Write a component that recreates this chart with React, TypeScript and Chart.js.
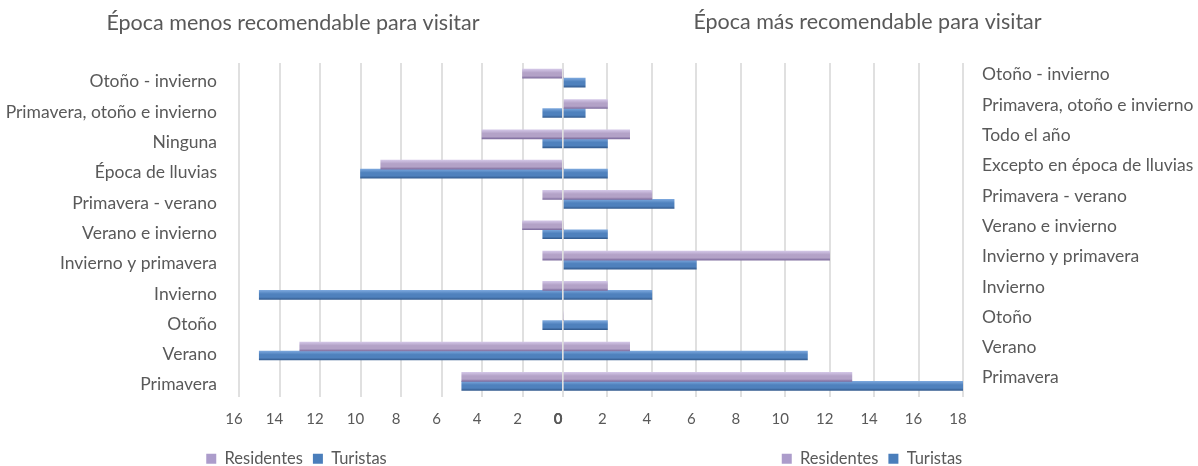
import React, { useEffect, useRef } from "react";
import { Chart, registerables } from "chart.js";

Chart.register(...registerables);

const leftTitle = "Época menos recomendable para visitar";
const rightTitle = "Época más recomendable para visitar";

const leftCategories = [
  "Otoño - invierno",
  "Primavera, otoño e invierno",
  "Ninguna",
  "Época de lluvias",
  "Primavera - verano",
  "Verano e invierno",
  "Invierno y primavera",
  "Invierno",
  "Otoño",
  "Verano",
  "Primavera",
];
const leftResidentes = [2, 0, 4, 9, 1, 2, 1, 1, 0, 13, 5];
const leftTuristas = [0, 1, 1, 10, 0, 1, 0, 15, 1, 15, 5];

const rightCategories = [
  "Otoño - invierno",
  "Primavera, otoño e invierno",
  "Todo el año",
  "Excepto en época de lluvias",
  "Primavera - verano",
  "Verano e invierno",
  "Invierno y primavera",
  "Invierno",
  "Otoño",
  "Verano",
  "Primavera",
];
const rightResidentes = [0, 2, 3, 0, 4, 0, 12, 2, 0, 3, 13];
const rightTuristas = [1, 1, 2, 2, 5, 2, 6, 4, 2, 11, 18];

const seriesNames = ["Residentes", "Turistas"];
const leftMax = 16;
const rightMax = 18;

const FONT = "Lato, 'Open Sans', sans-serif";
const TEXT = "#595959";
const BAR = 9;

const purple = { top: "#d2c5e6", mid: "#b3a2c7", bottom: "#7f6d9e", solid: "#b3a2c7", legend: "#ac9ccb" };
const blue = { top: "#7aa6dc", mid: "#4f81bd", bottom: "#345c90", solid: "#4f81bd", legend: "#4a7ebb" };

function gradient(c: typeof purple, dir: number) {
  return (ctx: any) => {
    const chart = ctx.chart;
    const yScale = chart.scales && chart.scales.y;
    if (!chart.chartArea || !yScale || ctx.dataIndex === undefined) return c.solid;
    const center = yScale.getPixelForValue(ctx.dataIndex) + dir * (BAR / 2);
    const g = chart.ctx.createLinearGradient(0, center - BAR / 2, 0, center + BAR / 2);
    g.addColorStop(0, c.top);
    g.addColorStop(0.4, c.mid);
    g.addColorStop(0.75, c.mid);
    g.addColorStop(1, c.bottom);
    return g;
  };
}

// shifts the title and legend boxes horizontally after layout
function shiftPlugin(titleDx: number, legendDx: number) {
  return {
    id: "shiftBoxes",
    afterLayout(chart: any) {
      const t = chart.titleBlock;
      if (t) {
        t.left += titleDx;
        t.right += titleDx;
      }
      const l = chart.legend;
      if (l) {
        l.left += legendDx;
        l.right += legendDx;
      }
    },
  };
}

function makeConfig(
  categories: string[],
  res: number[],
  tur: number[],
  title: string,
  side: "left" | "right",
  max: number
): any {
  const isLeft = side === "left";
  return {
    type: "bar",
    data: {
      labels: categories,
      datasets: [
        {
          label: seriesNames[0],
          data: res,
          backgroundColor: gradient(purple, -1),
          barThickness: BAR,
          borderWidth: 0,
        },
        {
          label: seriesNames[1],
          data: tur,
          backgroundColor: gradient(blue, 1),
          barThickness: BAR,
          borderWidth: 0,
        },
      ],
    },
    plugins: [isLeft ? shiftPlugin(11.5, 15) : shiftPlugin(-13, -8.5)],
    options: {
      indexAxis: "y",
      responsive: false,
      animation: false,
      devicePixelRatio: 1,
      layout: {
        padding: isLeft
          ? { left: 0, right: 37, top: 0, bottom: 0 }
          : { left: 23, right: 0, top: 0, bottom: 0 },
      },
      plugins: {
        title: {
          display: true,
          text: title,
          color: TEXT,
          font: { family: FONT, size: 21.5, weight: "normal" },
          padding: isLeft ? { top: 10, bottom: 27.2 } : { top: 9, bottom: 28.2 },
        },
        legend: {
          position: "bottom",
          labels: {
            color: TEXT,
            font: { family: FONT, size: 16.5 },
            boxWidth: 10,
            boxHeight: 10,
            padding: 10,
            generateLabels: () => [
              { text: seriesNames[0], fillStyle: purple.legend, strokeStyle: purple.legend, lineWidth: 0, datasetIndex: 0, fontColor: TEXT },
              { text: seriesNames[1], fillStyle: blue.legend, strokeStyle: blue.legend, lineWidth: 0, datasetIndex: 1, fontColor: TEXT },
            ],
          },
        },
        tooltip: { enabled: false },
      },
      scales: {
        x: {
          type: "linear",
          min: 0,
          max: max,
          reverse: isLeft,
          afterFit: (scale: any) => {
            scale.height = 44;
            scale.paddingLeft = 0;
            scale.paddingRight = 0;
          },
          grid: { color: "#e0e0e0", lineWidth: 2, drawTicks: false },
          border: { display: false },
          ticks: {
            stepSize: 2,
            padding: 14,
            labelOffset: -5,
            color: TEXT,
            font: (ctx: any) => ({
              family: FONT,
              size: 15,
              weight: ctx.tick && ctx.tick.value === 0 ? "bold" : "normal",
            }),
          },
        },
        y: {
          position: side,
          afterFit: (scale: any) => {
            scale.width = isLeft ? 239 : 235;
            scale.paddingTop = 0;
            scale.paddingBottom = 0;
          },
          grid: { display: false, drawTicks: false },
          border: { display: false },
          ticks: {
            padding: isLeft ? 22 : 19,
            labelOffset: isLeft ? 3.5 : -3.5,
            color: TEXT,
            font: { family: FONT, size: 17.5 },
          },
        },
      },
    },
  };
}

function ChartCanvas(props: { config: any; width: number; height: number; left: number }) {
  const ref = useRef<HTMLCanvasElement | null>(null);
  useEffect(() => {
    if (!ref.current) return;
    const chart = new Chart(ref.current, props.config);
    return () => chart.destroy();
  }, []);
  return (
    <canvas
      ref={ref}
      width={props.width}
      height={props.height}
      style={{
        position: "absolute",
        left: props.left,
        top: 0,
        width: props.width,
        height: props.height,
      }}
    />
  );
}

export default function App() {
  const leftConfig = makeConfig(leftCategories, leftResidentes, leftTuristas, leftTitle, "left", leftMax);
  const rightConfig = makeConfig(rightCategories, rightResidentes, rightTuristas, rightTitle, "right", rightMax);
  return (
    <div
      style={{
        position: "absolute",
        left: 0,
        top: 0,
        width: 1198,
        height: 466,
        overflow: "hidden",
        background: "#ffffff",
      }}
    >
      <ChartCanvas config={leftConfig} width={600} height={477} left={0} />
      <ChartCanvas config={rightConfig} width={658} height={477} left={540} />
    </div>
  );
}
